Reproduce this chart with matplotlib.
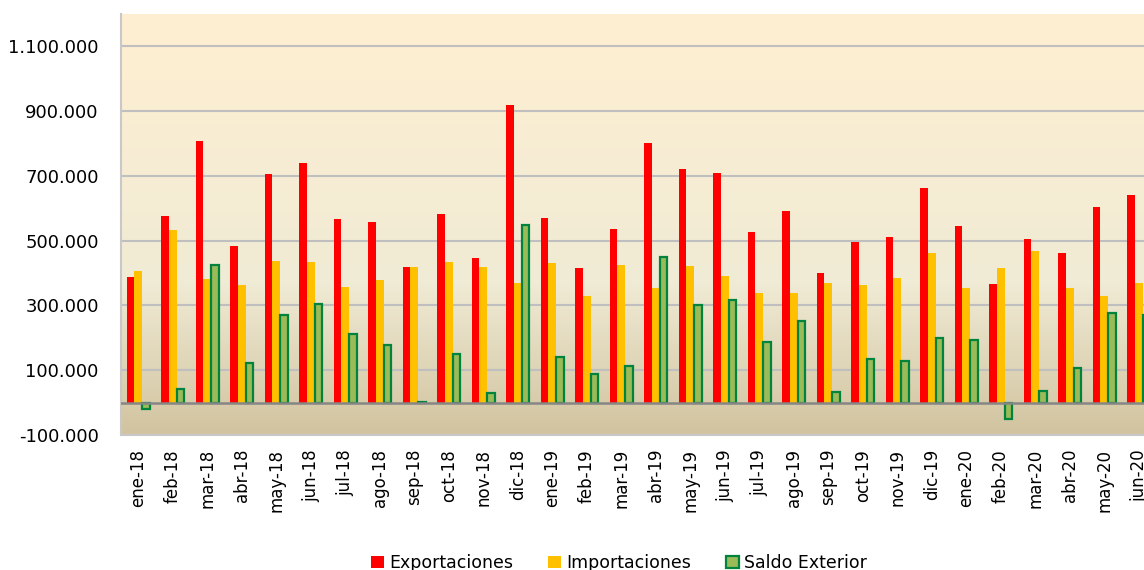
import numpy as np
import matplotlib
matplotlib.use('Agg')
import matplotlib.pyplot as plt
from matplotlib.colors import LinearSegmentedColormap

# Dane: meses ene-18 .. jun-20
meses = ['ene-18', 'feb-18', 'mar-18', 'abr-18', 'may-18', 'jun-18', 'jul-18', 'ago-18',
         'sep-18', 'oct-18', 'nov-18', 'dic-18', 'ene-19', 'feb-19', 'mar-19', 'abr-19',
         'may-19', 'jun-19', 'jul-19', 'ago-19', 'sep-19', 'oct-19', 'nov-19', 'dic-19',
         'ene-20', 'feb-20', 'mar-20', 'abr-20', 'may-20', 'jun-20']

exportaciones = [387000, 575000, 807000, 485000, 707000, 739000, 568000, 558000,
                 420000, 583000, 447000, 918000, 571000, 416000, 536000, 803000,
                 720000, 708000, 527000, 592000, 401000, 497000, 513000, 664000,
                 545000, 366000, 504000, 461000, 603000, 641000]

importaciones = [405000, 534000, 383000, 364000, 438000, 434000, 357000, 380000,
                 418000, 434000, 418000, 370000, 430000, 328000, 424000, 354000,
                 421000, 392000, 340000, 340000, 368000, 364000, 384000, 463000,
                 354000, 415000, 468000, 354000, 328000, 370000]

saldo = [-19000, 42000, 425000, 123000, 270000, 306000, 212000, 179000,
         2000, 150000, 30000, 547000, 142000, 89000, 113000, 451000,
         301000, 317000, 188000, 252000, 33000, 134000, 130000, 200000,
         192000, -50000, 37000, 108000, 276000, 272000]

y_ticks = [-100000, 100000, 300000, 500000, 700000, 900000, 1100000]

plt.rcParams['font.family'] = ['DejaVu Sans']

fig = plt.figure(figsize=(11.44, 5.70), dpi=100)
fig.patch.set_facecolor('white')
# obszar wykresu wychodzi poza prawą krawędź (jak w oryginale)
ax = fig.add_axes([0.1058, 0.2368, 0.9047, 0.7386])

# tło - gradient "pergamin"
cmap = LinearSegmentedColormap.from_list('perg', [(0.0, '#D1C39F'), (0.36, '#F0EBD5'), (1.0, '#FFEFD1')])
grad = np.linspace(0, 1, 256).reshape(-1, 1)
ax.imshow(grad, cmap=cmap, aspect='auto', origin='lower', extent=[0, 1, 0, 1],
          transform=ax.transAxes, zorder=0)

x = np.arange(len(meses))
w = 0.22

# linie siatki
for v in y_ticks[1:]:
    ax.axhline(v, color='#BFBFBF', lw=1.5, zorder=1)

ax.bar(x - w, exportaciones, w, color='#FF0000', label='Exportaciones', zorder=3)
ax.bar(x, importaciones, w, color='#FFC000', label='Importaciones', zorder=3)
ax.bar(x + w, saldo, w, color='#9BBB59', edgecolor='#00843D', linewidth=1.6,
       label='Saldo Exterior', zorder=3)

ax.axhline(0, color='#868686', lw=1.8, zorder=4)

ax.set_xlim(-0.5, len(meses) - 0.5)
ax.set_ylim(-100000, 1200000)

ax.set_yticks(y_ticks)
ax.set_yticklabels([f"{v:,.0f}".replace(',', '.') for v in y_ticks], fontsize=13)
ax.set_xticks(x)
ax.set_xticklabels(meses, rotation=90, fontsize=12)
ax.tick_params(axis='y', length=0, pad=16)
ax.tick_params(axis='x', length=0, pad=10)

for s in ['top', 'right']:
    ax.spines[s].set_visible(False)
for s in ['left', 'bottom']:
    ax.spines[s].set_color('#C8C8C8')
    ax.spines[s].set_linewidth(1.5)

fig.legend(loc='center', bbox_to_anchor=(0.541, 0.012), ncol=3, frameon=False,
           fontsize=12.5, handlelength=0.75, handleheight=0.75, handletextpad=0.3,
           columnspacing=2.0, borderpad=0)

plt.savefig('out.png', dpi=100)
